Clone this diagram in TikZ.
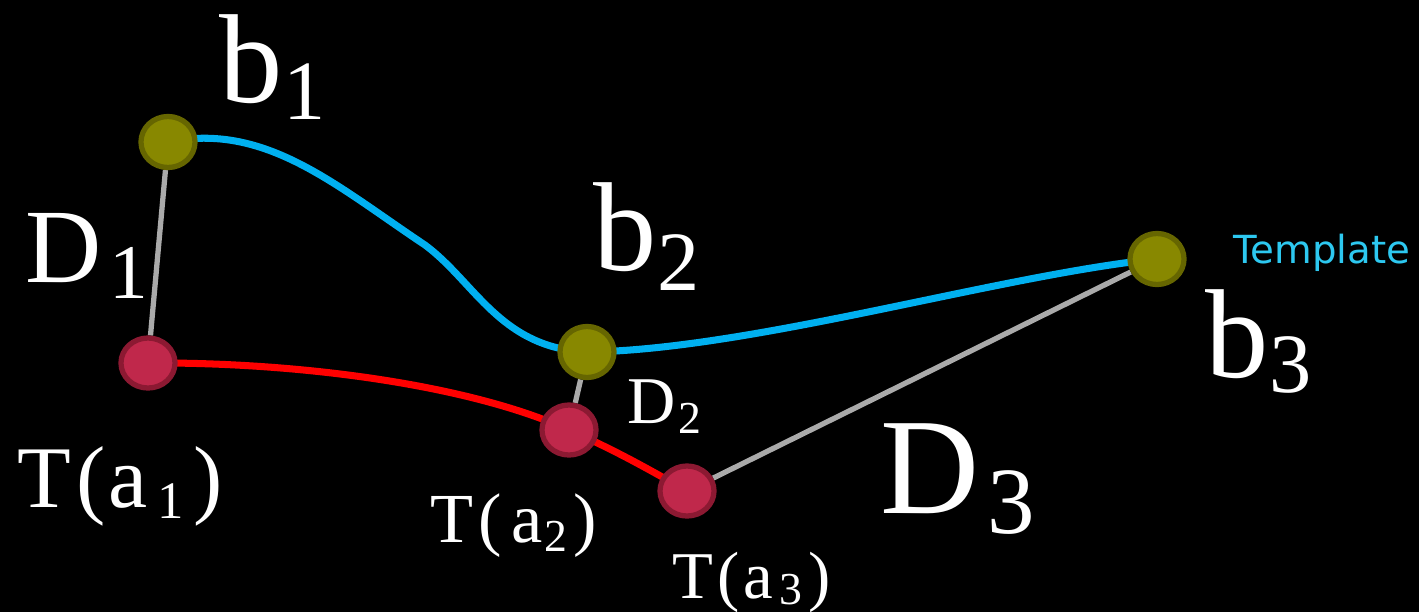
\documentclass[tikz,border=0pt]{standalone}
\usepackage{fontspec}
\setmainfont{Liberation Serif}
\newfontfamily\tplfont{DejaVu Sans}
\usetikzlibrary{shapes.geometric}
\pgfdeclarelayer{bg}
\pgfdeclarelayer{wires}
\pgfsetlayers{bg,wires,main}
\definecolor{oliveF}{RGB}{136,136,0}
\definecolor{oliveD}{RGB}{102,102,0}
\definecolor{crimF}{RGB}{192,40,75}
\definecolor{crimD}{RGB}{140,25,50}
\definecolor{tblue}{RGB}{0,176,240}
\definecolor{tplblue}{RGB}{45,200,240}
\definecolor{dgrey}{RGB}{170,170,170}
\newcommand\fsz[1]{\fontsize{#1}{#1}\selectfont}
\begin{document}
\begin{tikzpicture}[x=0.01cm,y=-0.01cm,
  bdot/.style={ellipse, draw=oliveD, fill=oliveF, line width=1.5pt, minimum width=0.54cm, minimum height=0.51cm, inner sep=0pt},
  adot/.style={ellipse, draw=crimD, fill=crimF, line width=1.5pt, minimum width=0.54cm, minimum height=0.50cm, inner sep=0pt},
  lbl/.style={text=white, inner sep=0pt, anchor=base west},
  tplline/.style={draw=tblue, line width=2pt},
  imgline/.style={draw=red, line width=2pt},
  dline/.style={draw=dgrey, line width=1.5pt}
]
\begin{pgfonlayer}{bg}
\fill[black] (0,0) rectangle (1419,612);
\end{pgfonlayer}
\useasboundingbox (0,0) rectangle (1419,612);

% points
\node[bdot] (b1) at (168,142) {};
\node[bdot] (b2) at (587,352) {};
\node[bdot] (b3) at (1157,259) {};
\node[adot] (ta1) at (148,363) {};
\node[adot] (ta2) at (569,430) {};
\node[adot] (ta3) at (687,491) {};
\coordinate (bk) at (425,245);

\begin{pgfonlayer}{wires}
\draw[tplline] (b1.center) .. controls (265,122) and (335,185) .. (bk)
  .. controls (475,282) and (500,348) .. (b2.center)
  .. controls (750,350) and (1000,275) .. (b3.center);
\draw[imgline] (ta1.center) .. controls (300,362) and (470,385) .. (ta2.center)
  .. controls (615,450) and (650,470) .. (ta3.center);
\draw[dline] (b1) -- (ta1);
\draw[dline] (b2) -- (ta2);
\draw[dline] (ta3) -- (b3);
\end{pgfonlayer}

% labels
\node[lbl] (lb1) at (219,102) {\fsz{36pt}b\hspace{0pt}\raisebox{-0.17cm}{\fsz{24pt}1}};
\node[lbl] (lb2) at (593,270) {\fsz{36pt}b\hspace{0pt}\raisebox{-0.20cm}{\fsz{24pt}2}};
\node[lbl] (lb3) at (1205,377) {\fsz{36pt}b\hspace{0pt}\raisebox{-0.15cm}{\fsz{24pt}3}};
\node[lbl] (ld1) at (25,282) {\fsz{30pt}D\hspace{0.08cm}\raisebox{-0.16cm}{\fsz{22pt}1}};
\node[lbl] (ld2) at (627,423) {\fsz{19pt}D\hspace{0.03cm}\raisebox{-0.10cm}{\fsz{13pt}2}};
\node[lbl] (ld3) at (880,513) {\fsz{39pt}D\hspace{0.08cm}\raisebox{-0.20cm}{\fsz{27pt}3}};
\node[lbl] (lt1) at (17,507) {\fsz{25pt}T\hspace{0.05cm}(\hspace{0.03cm}a\hspace{0.10cm}\raisebox{-0.11cm}{\fsz{15pt}1}\hspace{0.09cm})};
\node[lbl] (lt2) at (430,542) {\fsz{20pt}T\hspace{0.05cm}(\hspace{0.09cm}a\hspace{0.02cm}\raisebox{-0.09cm}{\fsz{13pt}2}\hspace{0.06cm})};
\node[lbl] (lt3) at (672,598) {\fsz{19pt}T\hspace{0.04cm}(\hspace{0.04cm}a\hspace{0.06cm}\raisebox{-0.06cm}{\fsz{13pt}3}\hspace{0.06cm})};
\node[lbl, text=tplblue] (tpl) at (1233,263) {\tplfont\fsz{11pt}Template};
\end{tikzpicture}
\end{document}
